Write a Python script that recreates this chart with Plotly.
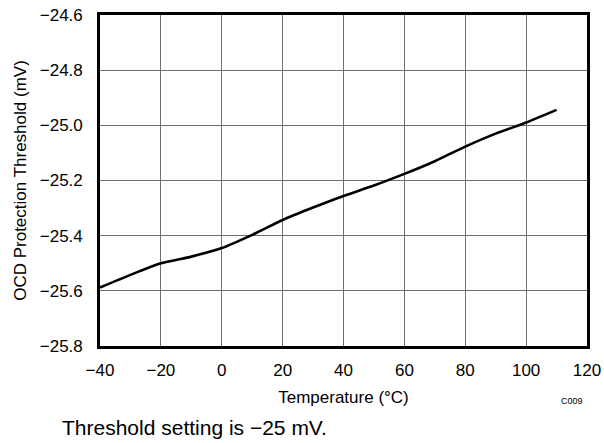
"""OCD protection threshold vs temperature."""

import plotly.graph_objects as go

temperature_c = [-40, -30, -20, -10, 0, 10, 20, 30, 40, 50, 60, 70, 80, 90, 100, 110]
threshold_mv = [-25.588, -25.542, -25.500, -25.476, -25.445, -25.397, -25.343, -25.298,
                -25.256, -25.218, -25.176, -25.130, -25.077, -25.030, -24.990, -24.944]

x_ticks = [-40, -20, 0, 20, 40, 60, 80, 100, 120]
y_ticks = [-25.8, -25.6, -25.4, -25.2, -25.0, -24.8, -24.6]

FONT = "Liberation Sans, Arial, Helvetica, sans-serif"


def fmt(v, decimals):
    s = f"{abs(v):.{decimals}f}"
    return ("\u2212" + s) if v < 0 else s


fig = go.Figure()
fig.add_trace(go.Scatter(
    x=temperature_c, y=threshold_mv, mode="lines",
    line=dict(color="black", width=2.6, shape="spline", smoothing=0.6),
    showlegend=False, hoverinfo="skip",
))

axis_common = dict(
    showgrid=True, gridcolor="#707070", gridwidth=1.3,
    showline=True, mirror=True, linecolor="black", linewidth=2.6,
    zeroline=False, ticks="", tickfont=dict(size=17, color="black"),
    automargin=False, ticklabeloverflow="allow",
)

fig.update_xaxes(
    range=[-40, 120], tickvals=x_ticks, ticktext=[fmt(v, 0) for v in x_ticks],
    ticklabelstandoff=7,
    title=dict(text="Temperature (°C)", font=dict(size=17, color="black"), standoff=12),
    **axis_common,
)
fig.update_yaxes(
    range=[-25.8, -24.6], tickvals=y_ticks, ticktext=[fmt(v, 1) for v in y_ticks],
    ticklabelstandoff=11,
    title=dict(text="OCD Protection Threshold (mV)", font=dict(size=17, color="black"), standoff=9),
    **axis_common,
)

fig.add_annotation(
    text="C009", xref="paper", yref="paper", x=0.996, y=-0.165,
    xanchor="right", yanchor="middle", showarrow=False,
    font=dict(size=9, color="black"),
)
fig.add_annotation(
    text="Threshold setting is \u221225 mV.", xref="paper", yref="paper",
    x=-0.082, y=-0.245, xanchor="left", yanchor="middle", showarrow=False,
    font=dict(size=21, color="black"),
)

fig.update_layout(
    width=604, height=443,
    paper_bgcolor="white", plot_bgcolor="white",
    font=dict(family=FONT, color="black"),
    margin=dict(l=100, r=17, t=15, b=97),
)

# drop the page's default body margin so the figure sits at the window corner
fig.write_html(
    "out.html",
    config={"displayModeBar": False},
    post_script="document.body.style.margin='0';document.body.style.overflow='hidden';",
)
